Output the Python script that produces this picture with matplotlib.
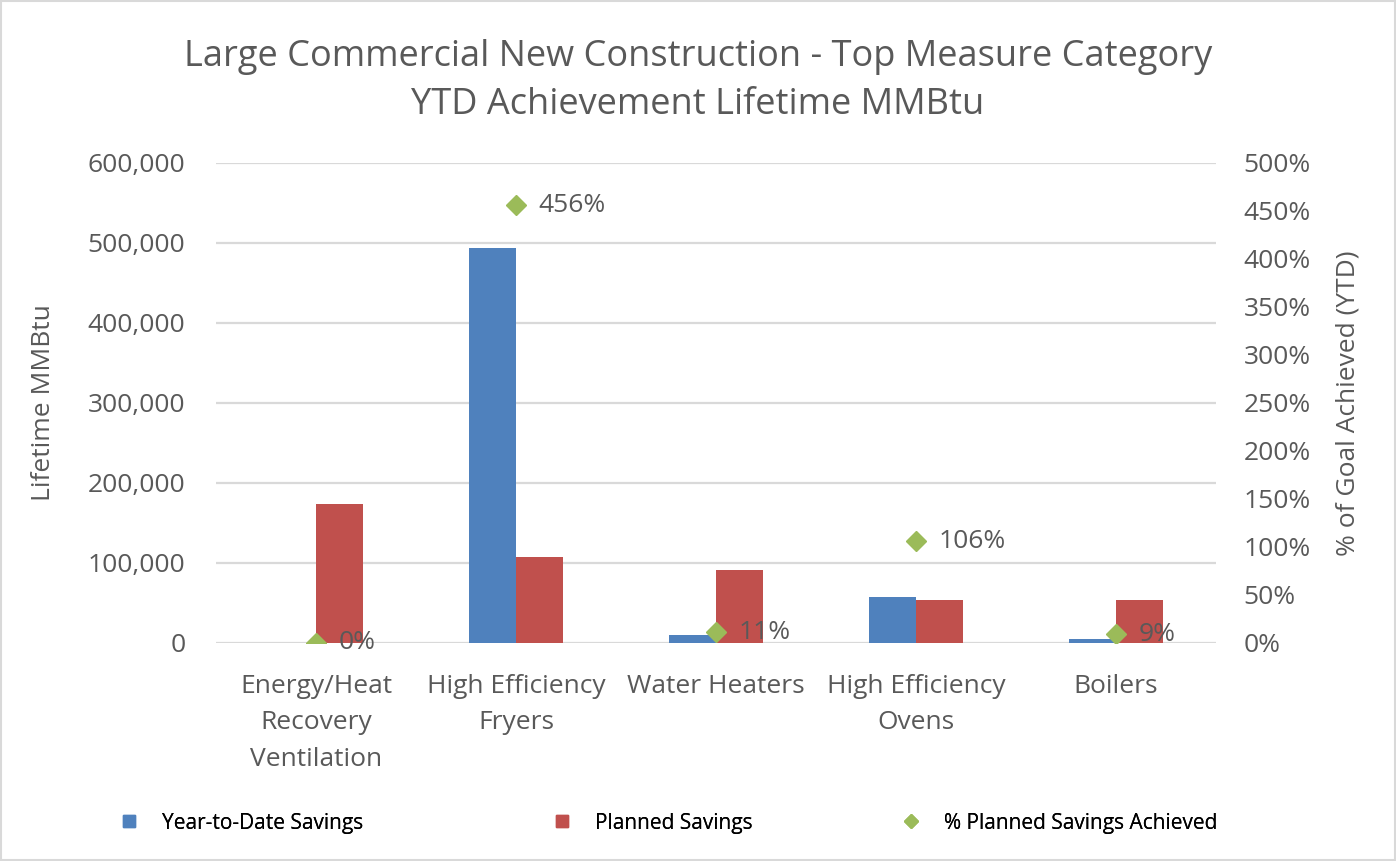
import matplotlib.pyplot as plt
import numpy as np
from matplotlib.lines import Line2D
from matplotlib.ticker import FuncFormatter

plt.rcParams['font.family'] = ['Open Sans', 'DejaVu Sans']

categories = ["Energy/Heat\nRecovery\nVentilation", "High Efficiency\nFryers", "Water Heaters",
              "High Efficiency\nOvens", "Boilers"]
ytd_savings = [0, 494000, 10000, 57500, 5000]
planned_savings = [174000, 107500, 91000, 54000, 54000]
pct_achieved = [0, 456, 11, 106, 9]
pct_labels = ["0%", "456%", "11%", "106%", "9%"]
series_names = ["Year-to-Date Savings", "Planned Savings", "% Planned Savings Achieved"]

blue = '#4F81BD'
red = '#C0504D'
green = '#9BBB59'
grey = '#595959'
fs = 19

fig = plt.figure(figsize=(13.96, 8.61), dpi=100)
ax = fig.add_axes([0.1547, 0.2532, 0.7163, 0.5575])
x = np.arange(len(categories))
w = 0.237

ax.bar(x - w / 2, ytd_savings, w, color=blue, zorder=3)
ax.bar(x + w / 2, planned_savings, w, color=red, zorder=3)
ax.set_xlim(-0.5, len(categories) - 0.5)
ax.set_ylim(0, 600000)
ax.set_yticks(np.arange(0, 600001, 100000))
ax.yaxis.set_major_formatter(FuncFormatter(lambda v, p: f"{int(v):,}"))
ax.grid(axis='y', color='#D9D9D9', linewidth=1.6, zorder=0)
ax.set_xticks(x)
ax.set_xticklabels(categories, fontsize=fs, color=grey, linespacing=1.62)
ax.tick_params(axis='both', length=0, labelsize=fs, labelcolor=grey)
ax.tick_params(axis='x', pad=22)
ax.tick_params(axis='y', pad=22)
for s in ax.spines.values():
    s.set_visible(False)
ax.set_ylabel("Lifetime MMBtu", fontsize=fs, color=grey)
ax.yaxis.set_label_coords(-0.16, 0.5)

ax2 = ax.twinx()
ax2.set_ylim(0, 500)
ax2.set_yticks(np.arange(0, 501, 50))
ax2.yaxis.set_major_formatter(FuncFormatter(lambda v, p: f"{int(v)}%"))
ax2.tick_params(axis='y', length=0, labelsize=fs, labelcolor=grey, pad=20)
for s in ax2.spines.values():
    s.set_visible(False)
ax2.set_ylabel("% of Goal Achieved (YTD)", fontsize=fs, color=grey)
ax2.yaxis.set_label_coords(1.12, 0.5)
ax2.plot(x, pct_achieved, linestyle='none', marker='D', markersize=10, color=green, zorder=5)
for xi, v, lab in zip(x, pct_achieved, pct_labels):
    ax2.annotate(lab, (xi, v), xytext=(16, 0), textcoords='offset points',
                 va='center', ha='left', fontsize=fs, color=grey)

fig.suptitle("Large Commercial New Construction - Top Measure Category\nYTD Achievement Lifetime MMBtu",
             fontsize=26, color=grey, y=0.955, linespacing=1.45)

handles = [Line2D([], [], linestyle='none', marker='s', markersize=9, color=blue),
           Line2D([], [], linestyle='none', marker='s', markersize=9, color=red),
           Line2D([], [], linestyle='none', marker='D', markersize=7, color=green)]
legend_x = [0.07, 0.38, 0.63]
for h, name, lx in zip(handles, series_names, legend_x):
    leg = fig.legend([h], [name], loc='center left', bbox_to_anchor=(lx, 0.044), frameon=False,
                     fontsize=15, handletextpad=1.0, handlelength=1.2)
    fig.add_artist(leg)

fig.add_artist(plt.Rectangle((0.001, 0.001), 0.998, 0.998, transform=fig.transFigure,
                             fill=False, edgecolor='#D9D9D9', linewidth=1.5))

fig.savefig('out.png', dpi=100)
